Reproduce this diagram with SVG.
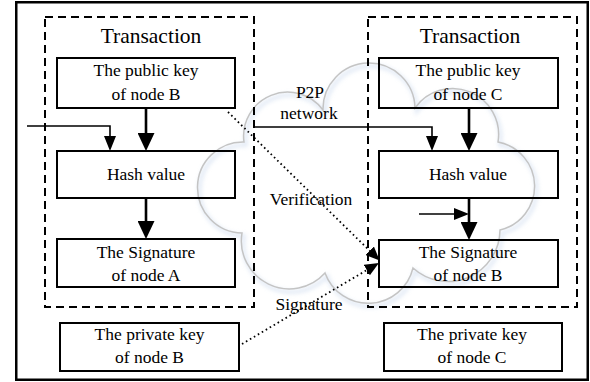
<svg xmlns="http://www.w3.org/2000/svg" width="590" height="382" viewBox="0 0 590 382">
  <style>
    .frame { fill: none; stroke: #000; stroke-width: 2.5; }
    .group { fill: none; stroke: #000; stroke-width: 2; stroke-dasharray: 8 5; }
    .box { fill: none; stroke: #000; stroke-width: 2; }
    .t { font-family: "Liberation Serif", "Times New Roman", serif; font-size: 17.5px; fill: #000; text-anchor: middle; }
    .title { font-family: "Liberation Serif", "Times New Roman", serif; font-size: 21.5px; fill: #000; text-anchor: middle; }
    .lbl { font-family: "Liberation Serif", "Times New Roman", serif; font-size: 17.5px; fill: #000; text-anchor: middle; }
    .thick { fill: none; stroke: #000; stroke-width: 2.6; marker-end: url(#big); }
    .thin { fill: none; stroke: #000; stroke-width: 1.6; marker-end: url(#small); }
    .dot { fill: none; stroke: #000; stroke-width: 1.8; stroke-dasharray: 1.6 3; marker-end: url(#dotHead); }
    .cloud { fill: none; stroke: #c4c4c4; stroke-width: 1.5; }
    .cloudShadow { fill: none; stroke: #c6d6ec; stroke-width: 3.5; opacity: 0.55; }
  </style>
  <defs>
    <filter id="blur" x="-20%" y="-20%" width="140%" height="140%">
      <feGaussianBlur stdDeviation="2"/>
    </filter>
    <marker id="big" viewBox="0 0 18 17" markerWidth="18" markerHeight="17" refX="8" refY="8.5" orient="auto" markerUnits="userSpaceOnUse">
      <path d="M0,0 L18,8.5 L0,17 z" fill="#000"/>
    </marker>
    <marker id="small" viewBox="0 0 15 12" markerWidth="15" markerHeight="12" refX="7" refY="6" orient="auto" markerUnits="userSpaceOnUse">
      <path d="M0,0 L15,6 L0,12 z" fill="#000"/>
    </marker>
    <marker id="dotHead" viewBox="0 0 14 12" markerWidth="14" markerHeight="12" refX="6" refY="6" orient="auto" markerUnits="userSpaceOnUse">
      <path d="M0,0 L14,6 L0,12 z" fill="#000"/>
    </marker>
  </defs>

  <rect class="frame" x="16.25" y="2.25" width="571.5" height="377.5"/>

  <g id="p2p-cloud">
    <path class="cloudShadow" filter="url(#blur)" transform="translate(2,3)" d="M244,142 A44,44 0 0 1 323,110 A46,46 0 0 1 415,108 A46,46 0 0 1 498,142 A45,45 0 0 1 500,230 A52,52 0 0 1 413,268 A46,46 0 0 1 325,273 A48,48 0 0 1 242,233 A45.5,45.5 0 0 1 244,142 Z"/>
    <path class="cloud" d="M244,142 A44,44 0 0 1 323,110 A46,46 0 0 1 415,108 A46,46 0 0 1 498,142 A45,45 0 0 1 500,230 A52,52 0 0 1 413,268 A46,46 0 0 1 325,273 A48,48 0 0 1 242,233 A45.5,45.5 0 0 1 244,142 Z"/>
    <text class="lbl" x="310" y="98">P2P</text>
    <text class="lbl" x="309" y="119">network</text>
  </g>

  <g id="transaction-left">
    <rect class="group" x="45" y="17" width="209" height="290"/>
    <text class="title" x="151" y="43">Transaction</text>
  </g>
  <g id="transaction-right">
    <rect class="group" x="368" y="17" width="209" height="290"/>
    <text class="title" x="470" y="43">Transaction</text>
  </g>

  <g id="pubkey-b">
    <rect class="box" x="57" y="58" width="178" height="50"/>
    <text class="t" x="146" y="76">The public key</text>
    <text class="t" x="146" y="100">of node B</text>
  </g>
  <g id="hash-left">
    <rect class="box" x="57" y="151" width="178" height="47"/>
    <text class="t" x="146" y="180">Hash value</text>
  </g>
  <g id="sig-a">
    <rect class="box" x="57" y="239" width="178" height="48"/>
    <text class="t" x="146" y="258">The Signature</text>
    <text class="t" x="146" y="281">of node A</text>
  </g>
  <g id="privkey-b">
    <rect class="box" x="60" y="323" width="179" height="48"/>
    <text class="t" x="149.5" y="340">The private key</text>
    <text class="t" x="149.5" y="363">of node B</text>
  </g>

  <g id="pubkey-c">
    <rect class="box" x="379" y="58" width="179" height="50"/>
    <text class="t" x="468" y="76">The public key</text>
    <text class="t" x="468" y="100">of node C</text>
  </g>
  <g id="hash-right">
    <rect class="box" x="379" y="151" width="179" height="47"/>
    <text class="t" x="468" y="180">Hash value</text>
  </g>
  <g id="sig-b">
    <rect class="box" x="379" y="240" width="179" height="47"/>
    <text class="t" x="468" y="258">The Signature</text>
    <text class="t" x="468" y="281">of node B</text>
  </g>
  <g id="privkey-c">
    <rect class="box" x="384" y="323" width="178" height="48"/>
    <text class="t" x="472" y="340">The private key</text>
    <text class="t" x="472" y="363">of node C</text>
  </g>

  <g id="connectors">
    <path class="thick" d="M146,108 V141"/>
    <path class="thin" d="M27,126 H110 V143"/>
    <path class="thick" d="M146,198 V229"/>
    <path class="thick" d="M469,108 V141"/>
    <path class="thin" d="M254,127 H432 V143"/>
    <path class="thick" d="M469,198 V230"/>
    <path class="thin" d="M419,214 H461"/>
    <path class="dot" d="M228,112 L374,255"/>
    <path class="dot" d="M242,344 L372,267"/>
    <text class="lbl" x="311" y="205">Verification</text>
    <text class="lbl" x="309" y="310">Signature</text>
  </g>
</svg>
